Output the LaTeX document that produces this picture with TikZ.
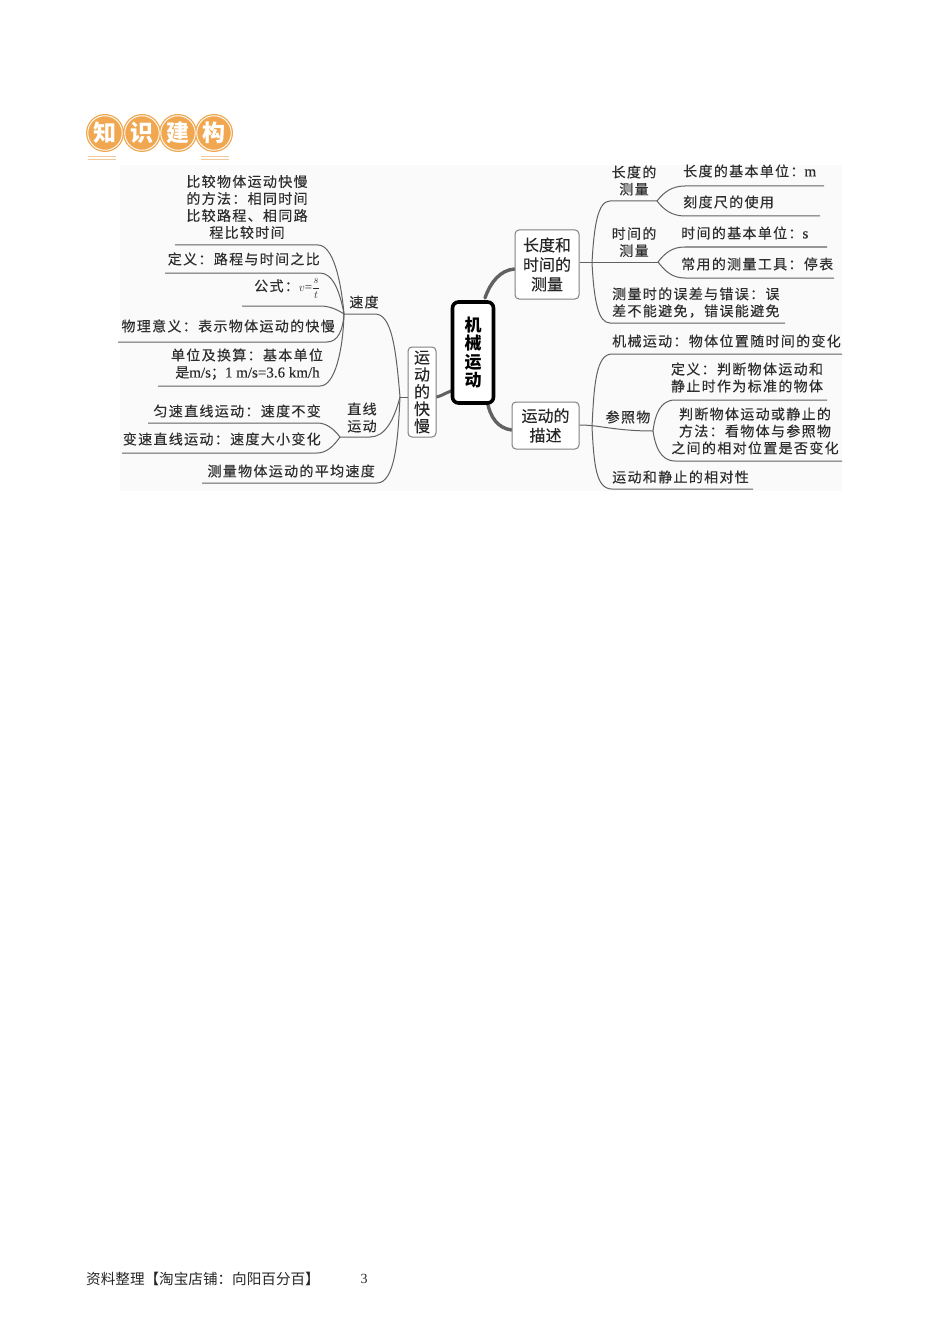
\documentclass[tikz,border=0pt]{standalone}
\usepackage{fontspec}
\usetikzlibrary{backgrounds}
\setmainfont{Liberation Serif}
\newfontfamily\cjk[LetterSpace=9.5,FakeBold=0.35]{Noto Sans CJK SC}
\newfontfamily\cjktight[FakeBold=0.15]{Noto Sans CJK SC}
\newfontfamily\cjkfoot{Noto Sans CJK SC}
\newfontfamily\latb[FakeBold=0.3]{Liberation Serif}
\def\fc{^^^^ff1a}
\def\fs{^^^^ff1b}
\def\fk{^^^^ff0c}
\begin{document}
\begin{tikzpicture}[x=1bp,y=-1bp,
  txt/.style={inner sep=0pt,text=black!82,font=\fontsize{14bp}{17bp}\selectfont\cjk,align=center},
  txtl/.style={txt,anchor=west},
  txtr/.style={txt,anchor=east},
  lnk/.style={draw=black!62,line width=1bp},
  main/.style={draw=black!62,line width=3bp,line cap=round},
  topic/.style={draw=black!50,line width=1bp,rounded corners=4bp,fill=white,inner sep=0pt,text=black!85,align=center,font=\fontsize{16bp}{19.6bp}\selectfont\cjktight},
  badge/.style={circle,draw=white,line width=0.9bp,fill=badgeor,minimum size=34.5bp,inner sep=0pt,text=white,font=\fontsize{23bp}{23bp}\selectfont\bfseries\cjkfoot},
  badgeout/.style={circle,fill=badgeor,minimum size=38bp,inner sep=0pt},
  rule/.style={draw=badgeline,line width=1bp}
]
\definecolor{badgeor}{HTML}{F0A750}
\definecolor{badgeline}{HTML}{F3C99A}
\useasboundingbox (0,0) rectangle (950,1344);

% badge
\node[badgeout] (bo1) at (105,133) {};
\node[badgeout] (bo2) at (142,133) {};
\node[badgeout] (bo3) at (178,133) {};
\node[badgeout] (bo4) at (214,133) {};
\node[badge] (b1) at (105,133) {知};
\node[badge] (b2) at (142,133) {识};
\node[badge] (b3) at (178,133) {建};
\node[badge] (b4) at (214,133) {构};
\draw[rule] (88,156.5) -- (116,156.5) (88,159.5) -- (116,159.5);
\draw[rule] (201,156.5) -- (229,156.5) (201,159.5) -- (229,159.5);

% central topics
\node[draw=black,line width=3.6bp,rounded corners=6bp,fill=white,minimum width=41bp,minimum height=101bp,inner sep=0pt,
      font=\fontsize{17bp}{18.6bp}\selectfont\bfseries\cjkfoot,align=center] (root) at (473,352.5) {机\\械\\运\\动};
\node[topic,minimum width=28bp,minimum height=90bp,font=\fontsize{16bp}{17.2bp}\selectfont\cjktight] (speed) at (422,392) {运\\动\\的\\快\\慢};
\node[topic,minimum width=64bp,minimum height=69bp] (meas) at (547,264.5) {长度和\\时间的\\测量};
\node[topic,minimum width=67bp,minimum height=47bp] (desc) at (545.5,425.5) {运动的\\描述};

\begin{pgfonlayer}{background}
\fill[black!2] (120,165) rectangle (842,491);
\draw[main] (root.center |- 0,385) .. controls (447,390) and (443,396) .. (speed.east |- 0,397);
\draw[main,line width=3.4bp] (485,298) .. controls (490,283) and (500,270) .. (meas.west |- 0,269);
\draw[main,line width=3.4bp] (487,400) .. controls (490,418) and (498,428) .. (desc.west |- 0,430);
\end{pgfonlayer}

% left branch junctions
\coordinate (jL) at (400,397);
\coordinate (jV) at (344,314);
\coordinate (jZ) at (340,437);
\node[txt] (vlab) at (364,302) {速度};
\node[txt] (zlab) at (362,417.5) {直线\\运动};
\node[txt] (t1) at (247,207) {比较物体运动快慢\\的方法\fc 相同时间\\比较路程、相同路\\程比较时间};
\node[txtr] (t2) at (320,259) {定义\fc 路程与时间之比};
\node[txtr] (t3) at (320,289) {公式\fc{\fontsize{13bp}{15bp}\selectfont\rmfamily$v$=\raisebox{-0.1bp}{\fontsize{11bp}{13bp}\selectfont$\displaystyle\frac{s}{t}$}}};
\node[txtr] (t4) at (335,326) {物理意义\fc 表示物体运动的快慢};
\node[txt] (t5a) at (247,355) {单位及换算\fc 基本单位};
\node[txt] (t5b) at (247.5,373) {是{\fontsize{15bp}{17bp}\selectfont\latb m/s}\fs{\fontsize{15bp}{17bp}\selectfont\latb 1 m/s=3.6 km/h}};
\node[txtr] (t6) at (321,411) {匀速直线运动\fc 速度不变};
\node[txtr] (t7) at (321,439) {变速直线运动\fc 速度大小变化};
\node[txtr] (t8) at (375,471) {测量物体运动的平均速度};

\coordinate (e1) at (175,245);
\coordinate (e2) at (165,273);
\coordinate (e3) at (242,306);
\coordinate (e4) at (118,342);
\coordinate (e5) at (158,386);
\coordinate (e6) at (148,423);
\coordinate (e7) at (122,453);
\coordinate (e8) at (202,483);

\draw[lnk] (speed.west |- jL) -- (jL);
\draw[lnk] (jL) .. controls (396,350) and (392,314) .. (375,314) -- (jV);
\draw[lnk] (jL) .. controls (394,420) and (385,437) .. (370,437) -- (jZ);
\draw[lnk] (jL) .. controls (398,440) and (395,483) .. (377,483) -- (e8);
\draw[lnk] (jV) .. controls (341,280) and (333,245) .. (318,245) -- (e1);
\draw[lnk] (jV) .. controls (340,292) and (333,273) .. (320,273) -- (e2);
\draw[lnk] (jV) .. controls (338,310) and (330,306) .. (320,306) -- (e3);
\draw[lnk] (jV) .. controls (343,330) and (338,342) .. (327,342) -- (e4);
\draw[lnk] (jV) .. controls (343,350) and (335,386) .. (320,386) -- (e5);
\draw[lnk] (jZ) .. controls (333,428) and (326,423) .. (317,423) -- (e6);
\draw[lnk] (jZ) .. controls (333,447) and (326,453) .. (317,453) -- (e7);

% upper right branch
\coordinate (jA) at (592,263);
\coordinate (jB) at (657,201);
\coordinate (jC) at (658,262);
\coordinate (e9) at (824,186);
\coordinate (e10) at (820,216);
\coordinate (e11) at (827,247);
\coordinate (e12) at (834,278);
\coordinate (e13) at (785,323);
\node[txt] (r1) at (634,180.5) {长度的\\测量};
\node[txtl] (r2) at (683,171) {长度的基本单位\fc{\fontsize{15bp}{17bp}\selectfont\latb m}};
\node[txtl] (r3) at (683,202) {刻度尺的使用};
\node[txt] (r4) at (634,242) {时间的\\测量};
\node[txtl] (r5) at (681,233) {时间的基本单位\fc{\fontsize{15bp}{17bp}\selectfont\latb s}};
\node[txtl] (r6) at (681,264) {常用的测量工具\fc 停表};
\node[txtl,align=left] (r7) at (612,302.5) {测量时的误差与错误\fc 误\\差不能避免\fk 错误能避免};

\draw[lnk] (meas.east |- jC) -- (jC);
\draw[lnk] (jA) .. controls (594,225) and (598,201) .. (610,201) -- (jB);
\draw[lnk] (jA) .. controls (594,300) and (598,323) .. (610,323) -- (e13);
\draw[lnk] (jB) .. controls (664,192) and (672,186) .. (685,186) -- (e9);
\draw[lnk] (jB) .. controls (664,210) and (672,216) .. (685,216) -- (e10);
\draw[lnk] (jC) .. controls (665,253) and (672,247) .. (685,247) -- (e11);
\draw[lnk] (jC) .. controls (665,271) and (672,278) .. (685,278) -- (e12);

% lower right branch
\coordinate (jD) at (592,427);
\coordinate (jE) at (653,431);
\coordinate (e14) at (842,354);
\coordinate (e15) at (753,489);
\coordinate (e16) at (827,400);
\coordinate (e17) at (842,461);
\node[txtl] (s1) at (612,341) {机械运动\fc 物体位置随时间的变化};
\node[txt] (s2) at (628,417) {参照物};
\node[txt] (s3) at (747,377.5) {定义\fc 判断物体运动和\\静止时作为标准的物体};
\node[txt] (s4) at (755,431) {判断物体运动或静止的\\方法\fc 看物体与参照物\\之间的相对位置是否变化};
\node[txtl] (s5) at (612,477) {运动和静止的相对性};

\draw[lnk] (desc.east |- 0,425) .. controls (600,425) and (615,431) .. (jE);
\draw[lnk] (jD) .. controls (594,385) and (596,354) .. (612,354) -- (e14);
\draw[lnk] (jD) .. controls (594,465) and (596,489) .. (612,489) -- (e15);
\draw[lnk] (jE) .. controls (655,415) and (660,400) .. (675,400) -- (e16);
\draw[lnk] (jE) .. controls (655,445) and (660,461) .. (675,461) -- (e17);

% footer
\node[anchor=west,inner sep=0pt,text=black!85,font=\fontsize{14.6bp}{16bp}\selectfont\cjkfoot] (foot) at (86,1279) {资料整理【淘宝店铺\fc 向阳百分百】};
\node[inner sep=0pt,text=black!85,font=\fontsize{14bp}{16bp}\selectfont] (page) at (364,1279) {3};
\end{tikzpicture}
\end{document}
